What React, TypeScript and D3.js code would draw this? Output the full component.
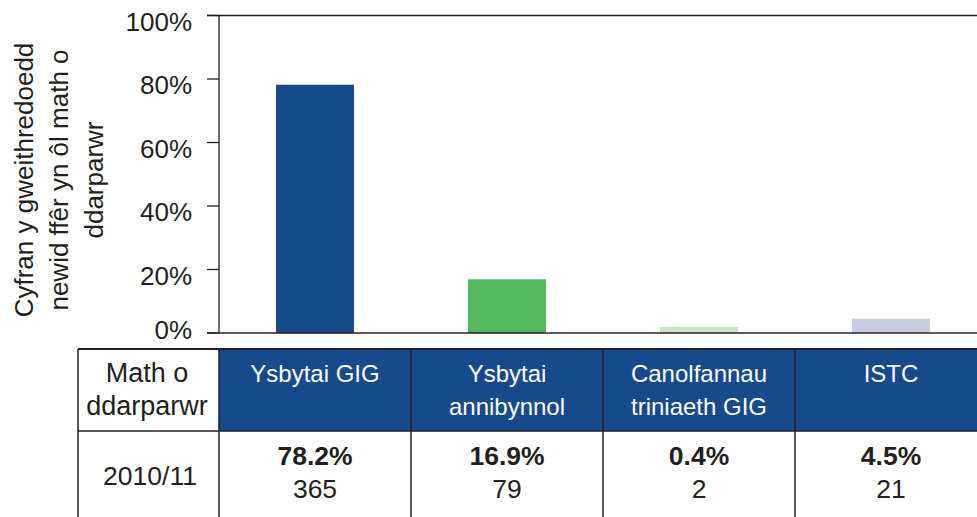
import React from 'react';
import * as d3 from 'd3';

// chart values
const providers = ['Ysbytai GIG', 'Ysbytai annibynnol', 'Canolfannau triniaeth GIG', 'ISTC'];
const headerLines = [['Ysbytai GIG'], ['Ysbytai', 'annibynnol'], ['Canolfannau', 'triniaeth GIG'], ['ISTC']];
const shares = [78.2, 16.9, 0.4, 4.5];
const counts = [365, 79, 2, 21];
const barColors = ['#174a8c', '#51b85c', '#c6e4c2', '#c9cce1'];
const yTicks = [0, 20, 40, 60, 80, 100];
const yTitle = ['Cyfran y gweithredoedd', 'newid ffêr yn ôl math o', 'ddarparwr'];
const rowHeader = ['Math o', 'ddarparwr'];
const rowLabel = '2010/11';

const W = 977;
const H = 517;
const font = '"Liberation Sans", Arial, Helvetica, sans-serif';
const ink = '#231f20';
const blue = '#174a8c';

const App = () => {
    const x = d3.scaleBand<string>()
        .domain(providers)
        .range([219, 987])
        .paddingInner(0.594)
        .paddingOuter(0.297);
    const y = d3.scaleLinear().domain([0, 100]).range([333, 15.5]);

    const step = x.step();
    const colLeft = (p: string) => (x(p) as number) - (step - x.bandwidth()) / 2;
    const colMid = (p: string) => colLeft(p) + step / 2;

    const tableTop = 349;
    const headBottom = 431;

    return (
        <svg width={W} height={H} style={{ position: 'absolute', left: 0, top: 0, background: '#fff' }}
            fontFamily={font}>
            {/* y title */}
            <g transform="translate(0,180) rotate(-90)">
                {yTitle.map((t, i) => (
                    <text key={i} x={0} y={33 + i * 35} textAnchor="middle" fontSize={26} fill={ink}>{t}</text>
                ))}
            </g>

            {/* bars */}
            {providers.map((p, i) => {
                const h = Math.max(y(0) - y(shares[i]), 6);
                return <rect key={p} x={x(p)} y={y(0) - h} width={x.bandwidth()} height={h} fill={barColors[i]} />;
            })}

            {/* y axis */}
            <line x1={219} x2={219} y1={y(100)} y2={y(0)} stroke={ink} strokeWidth={1.3} />
            <line x1={207} x2={W} y1={y(100)} y2={y(100)} stroke={ink} strokeWidth={1.5} />
            <line x1={207} x2={W} y1={y(0)} y2={y(0)} stroke={ink} strokeWidth={1.5} />
            {yTicks.map(t => (
                <g key={t}>
                    <line x1={207} x2={219} y1={y(t)} y2={y(t)} stroke={ink} strokeWidth={1.3} />
                    <text x={192} y={y(t) + (t === 0 ? 6 : 15)} textAnchor="end" fontSize={26} fill={ink}>{t}%</text>
                </g>
            ))}

            {/* table header */}
            <rect x={219} y={tableTop} width={W - 219} height={headBottom - tableTop} fill={blue} />
            {rowHeader.map((t, i) => (
                <text key={i} x={147} y={382 + i * 33} textAnchor="middle" fontSize={27} fill={ink}>{t}</text>
            ))}
            {providers.map((p, i) => (
                <g key={p}>
                    {headerLines[i].map((t, j) => (
                        <text key={j} x={colMid(p)} y={382 + j * 33} textAnchor="middle" fontSize={24} fill="#fff">{t}</text>
                    ))}
                    <text x={colMid(p)} y={465} textAnchor="middle" fontSize={26.5} fontWeight="bold" fill={ink}>{shares[i]}%</text>
                    <text x={colMid(p)} y={498} textAnchor="middle" fontSize={26.5} fill={ink}>{counts[i]}</text>
                </g>
            ))}
            <text x={150} y={485} textAnchor="middle" fontSize={26.5} fill={ink}>{rowLabel}</text>

            {/* table lines */}
            <line x1={78} x2={W} y1={tableTop} y2={tableTop} stroke={ink} strokeWidth={2} />
            <line x1={78} x2={W} y1={headBottom} y2={headBottom} stroke={ink} strokeWidth={1.5} />
            <line x1={78} x2={78} y1={tableTop} y2={H} stroke={ink} strokeWidth={1.5} />
            {providers.map(p => (
                <line key={p} x1={colLeft(p)} x2={colLeft(p)} y1={tableTop} y2={H} stroke={ink} strokeWidth={1.5} />
            ))}
        </svg>
    );
};

export default App;
